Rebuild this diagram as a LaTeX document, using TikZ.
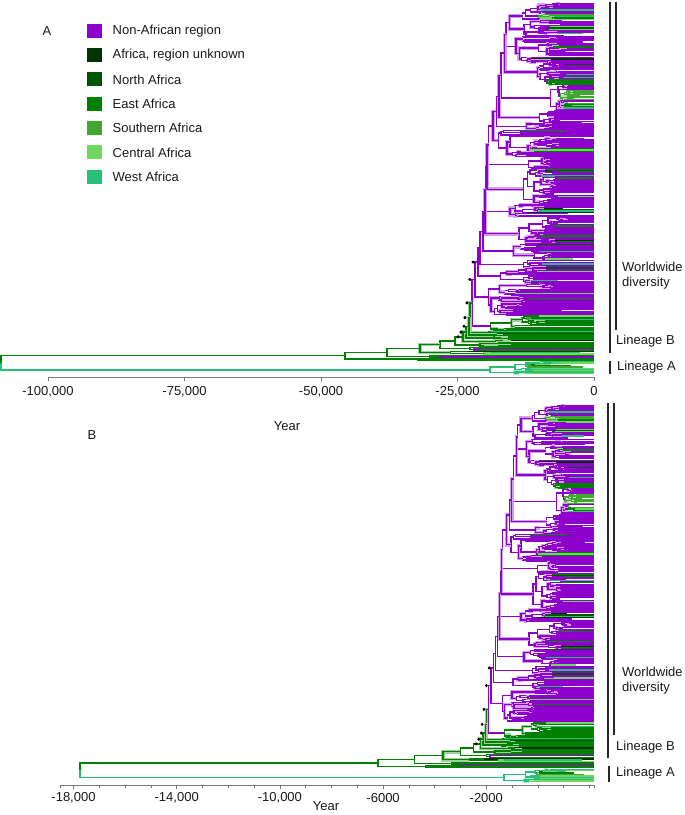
\documentclass[tikz,border=0pt]{standalone}
\usepackage{fontspec}
\setmainfont{Liberation Sans}
\definecolor{col0}{RGB}{142,0,204}
\definecolor{col1}{RGB}{0,51,0}
\definecolor{col2}{RGB}{0,85,0}
\definecolor{col3}{RGB}{0,128,0}
\definecolor{col4}{RGB}{64,168,48}
\definecolor{col5}{RGB}{112,216,96}
\definecolor{col6}{RGB}{40,192,120}
\definecolor{axgray}{RGB}{120,120,120}

% colour lists for internal branches (N) and for tips (T)
\pgfmathdeclarerandomlist{fromPN}{{3}{6}{5}{4}{5}{6}{3}}
\pgfmathdeclarerandomlist{fromDN}{{0}{0}{3}{4}{5}{6}{3}}
\pgfmathdeclarerandomlist{fromLN}{{5}{6}{4}{3}{6}{5}}
\pgfmathdeclarerandomlist{fromPT}{{3}{3}{2}{1}{6}{5}{3}{2}{4}}
\pgfmathdeclarerandomlist{fromDT}{{0}{0}{3}{2}{1}{4}{5}{6}}
\pgfmathdeclarerandomlist{fromLT}{{5}{6}{4}{3}{6}{5}}

\def\xend{594}
\def\leafgap{1.9}
\def\pnode{0.035}
\def\pleaf{0.1}

% #1 parent colour, #2 probability, #3 result macro, #4 N or T
\newcommand\pickcol[4]{%
  \pgfmathtruncatemacro\sw{rnd<#2 ? 1 : 0}%
  \ifnum\sw=1
    \ifcase#1 \pgfmathrandomitem{#3}{fromP#4}\or
      \pgfmathrandomitem{#3}{fromD#4}\or \pgfmathrandomitem{#3}{fromD#4}\or
      \pgfmathrandomitem{#3}{fromD#4}\or \pgfmathrandomitem{#3}{fromL#4}\or
      \pgfmathrandomitem{#3}{fromL#4}\or \pgfmathrandomitem{#3}{fromL#4}\fi
  \else \edef#3{#1}\fi}

\newcommand\adddot[2]{%
  \pgfmathsetmacro\dx{#1-5}%
  \xdef\dotlist{\unexpanded\expandafter{\dotlist}\noexpand\fill[black] (\dx,#2) circle[radius=1.7];}}

% bracket of a node: #1 colour, then xa, yA, x, yB, xb
\newcommand\nodebr[6]{%
  \pgfmathtruncatemacro\ul{rnd<0.35 ? 1 : 0}%
  \ifnum\ul=1
    \draw[hpd,draw=col#1!38] (#2,#3) -- (#4,#3) -- (#4,#5) -- (#6,#5);
  \fi
  \draw[br,draw=col#1] (#2,#3) -- (#4,#3) -- (#4,#5) -- (#6,#5);}

% random subtree: #1 node x, #2 top, #3 bottom, #4 colour; returns \retY
\newcommand\clade[4]{%
  \begingroup
  \pgfmathsetmacro\hh{#3-#2}%
  \ifdim\hh pt<\leafgap pt
    \pgfmathsetmacro\ym{(#2+#3)/2}%
    \pgfmathsetmacro\xe{rnd<0.09 ? \xend-8-rnd*40 : \xend}%
    \pgfmathsetmacro\xe{max(\xe,#1+2)}%
    \pickcol{#4}{\pleaf}{\cc}{T}%
    \edef\tmp{\noexpand\draw[br,draw=col\cc] (#1,\ym) -- (\xe,\ym);}\tmp
    \xdef\retY{\ym}%
  \else
    \pgfmathsetmacro\pn{\hh<18 ? \pnode : \pnode*0.15}%
    \pgfmathsetmacro\s{#2+\hh*(0.12+0.76*rnd)}%
    \pgfmathsetmacro\xa{#1+(\xend-#1)*(0.02+0.3*rnd*rnd)}%
    \pgfmathsetmacro\xb{#1+(\xend-#1)*(0.02+0.3*rnd*rnd)}%
    \pickcol{#4}{\pn}{\ca}{N}%
    \pickcol{#4}{\pn}{\cb}{N}%
    \edef\tmp{\noexpand\clade{\xa}{#2}{\s}{\ca}}\tmp
    \edef\yA{\retY}%
    \edef\tmp{\noexpand\clade{\xb}{\s}{#3}{\cb}}\tmp
    \edef\yB{\retY}%
    \pgfmathsetmacro\ym{(\yA+\yB)/2}%
    \edef\tmp{\noexpand\nodebr{#4}{\xa}{\yA}{#1}{\yB}{\xb}}\tmp
    \xdef\retY{\ym}%
  \fi
  \endgroup}

% backbone ladder: #1 x, #2 top, #3 bottom, #4 colour, #5 level
\newcommand\ladder[5]{%
  \begingroup
  \pgfmathsetmacro\hh{#3-#2}%
  \ifdim\hh pt<45pt
    \clade{#1}{#2}{#3}{#4}%
  \else
    \pgfmathsetmacro\sz{min(7+rnd*30,\hh-20)}%
    \pgfmathsetmacro\s{#3-\sz}%
    \pgfmathsetmacro\xa{#1+1+rnd*3.5}%
    \pgfmathsetmacro\xb{#1+5+rnd*45}%
    \pickcol{#4}{\pnode}{\cb}{N}%
    \edef\tmp{\noexpand\ladder{\xa}{#2}{\s}{#4}{\the\numexpr#5+1\relax}}\tmp
    \edef\yA{\retY}%
    \edef\tmp{\noexpand\clade{\xb}{\s}{#3}{\cb}}\tmp
    \edef\yB{\retY}%
    \pgfmathsetmacro\ym{(\yA+\yB)/2}%
    \edef\tmp{\noexpand\nodebr{#4}{\xa}{\yA}{#1}{\yB}{\xb}}\tmp
    \ifnum#5<3 \adddot{#1}{\ym}\fi
    \xdef\retY{\ym}%
  \fi
  \endgroup}

% lineage B ladder node: #1 x, #2 upper child x, #3 clade x, #4 top, #5 bottom, #6 dot
\newcommand\lbnode[6]{%
  \clade{#3}{#4}{#5}{3}%
  \edef\yc{\retY}%
  \pgfmathsetmacro\ynew{(\curY+\yc)/2}%
  \edef\tmp{\noexpand\nodebr{3}{#2}{\curY}{#1}{\yc}{#3}}\tmp
  \ifnum#6=1 \adddot{#1}{\ynew}\fi
  \xdef\curY{\ynew}}

\newcommand\drawtree{%
  \pgfmathsetseed{4242}%
  \gdef\dotlist{}%
  \def\pnode{0.035}\def\pleaf{0.1}%
  \ladder{472}{3}{331}{0}{0}%
  \xdef\curY{\retY}%
  \def\pnode{0.12}\def\pleaf{0.2}%
  \lbnode{470}{472}{488}{331}{334}{1}%
  \lbnode{469}{470}{492}{334}{337}{1}%
  \lbnode{466}{469}{488}{337}{340}{1}%
  \lbnode{463}{466}{495}{340}{343}{1}%
  \lbnode{455}{463}{480}{343}{347}{0}%
  \lbnode{440}{455}{470}{347}{351}{0}%
  \lbnode{420}{440}{450}{351}{355}{0}%
  \lbnode{387}{420}{430}{355}{358}{0}%
  \lbnode{345}{387}{400}{358}{361}{0}%
  \def\pnode{0.2}\def\pleaf{0.3}%
  \clade{490}{361}{374}{6}%
  \edef\yLA{\retY}%
  \pgfmathsetmacro\ymid{(\curY+\yLA)/2}%
  \edef\tmp{\noexpand\draw[br,draw=col3] (345,\curY) -- (1,\curY) -- (1,\ymid);
    \noexpand\draw[br,draw=col6] (1,\ymid) -- (1,\yLA) -- (490,\yLA);}\tmp
  \dotlist}

\tikzset{
  br/.style={line width=1.45pt},
  hpd/.style={line width=3.6pt},
  lab/.style={font=\fontsize{13}{15}\selectfont, inner sep=0pt, text=black!90},
  axln/.style={draw=axgray, line width=0.8pt},
  brk/.style={draw=black!85, line width=1.1pt},
}

\begin{document}
\begin{tikzpicture}[x=1pt,y=-1pt]
\useasboundingbox (0,0) rectangle (685,815);

% ---------- panel A ----------
\drawtree
\node[lab] (labA) at (47,31) {A};
\foreach \c/\t [count=\i from 0] in {0/Non-African region, 1/{Africa, region unknown}, 2/North Africa, 3/East Africa, 4/Southern Africa, 5/Central Africa, 6/West Africa}{
  \pgfmathsetmacro\yy{30.7+24.35*\i}
  \fill[col\c] (87,\yy-7) rectangle (101.5,\yy+7);
  \node[lab, anchor=west] (leg\i) at (112.5,\yy) {\t};
}
\draw[axln] (48,377) -- (594,377);
\foreach \x/\l [count=\i] in {48/{-100,000}, 184.5/{-75,000}, 321/{-50,000}, 457.5/{-25,000}, 594/0}{
  \draw[axln] (\x,377) -- (\x,381);
  \node[lab] (ta\i) at (\x,391.5) {\l};
}
\node[lab] (yearA) at (287,426) {Year};
\draw[brk] (616,2) -- (616,330);
\draw[brk] (610,2) -- (610,353);
\draw[brk] (610,361) -- (610,374);
\node[lab, anchor=west, align=left] (wwA) at (622,275.5) {Worldwide\\diversity};
\node[lab, anchor=west] (lbA) at (616,341) {Lineage B};
\node[lab, anchor=west] (laA) at (617,367) {Lineage A};

% ---------- panel B ----------
\begin{scope}[xshift=79pt, yshift=-402pt, xscale=0.867, yscale=1.015]
\drawtree
\end{scope}
\node[lab] (labB) at (92,435) {B};
\draw[axln] (60,785) -- (594,785);
\foreach \k in {0,...,20}{
  \draw[axln] (73.5+25.8*\k,785) -- (73.5+25.8*\k,788);
}
\draw[axln] (60,785) -- (60,788);
\draw[axln] (594,785) -- (594,788);
\foreach \k/\l [count=\i] in {0/{-18,000}, 4/{-14,000}, 8/{-10,000}, 12/{-6000}, 16/{-2000}}{
  \draw[axln] (73.5+25.8*\k,785) -- (73.5+25.8*\k,789);
  \node[lab] (tb\i) at (73.5+25.8*\k,798) {\l};
}
\node[lab] (yearB) at (326,806.5) {Year};
\draw[brk] (614,403) -- (614,735);
\draw[brk] (608,403) -- (608,758);
\draw[brk] (609,766) -- (609,782);
\node[lab, anchor=west, align=left] (wwB) at (622,680.5) {Worldwide\\diversity};
\node[lab, anchor=west] (lbB) at (616,747) {Lineage B};
\node[lab, anchor=west] (laB) at (616,773) {Lineage A};
\end{tikzpicture}
\end{document}
